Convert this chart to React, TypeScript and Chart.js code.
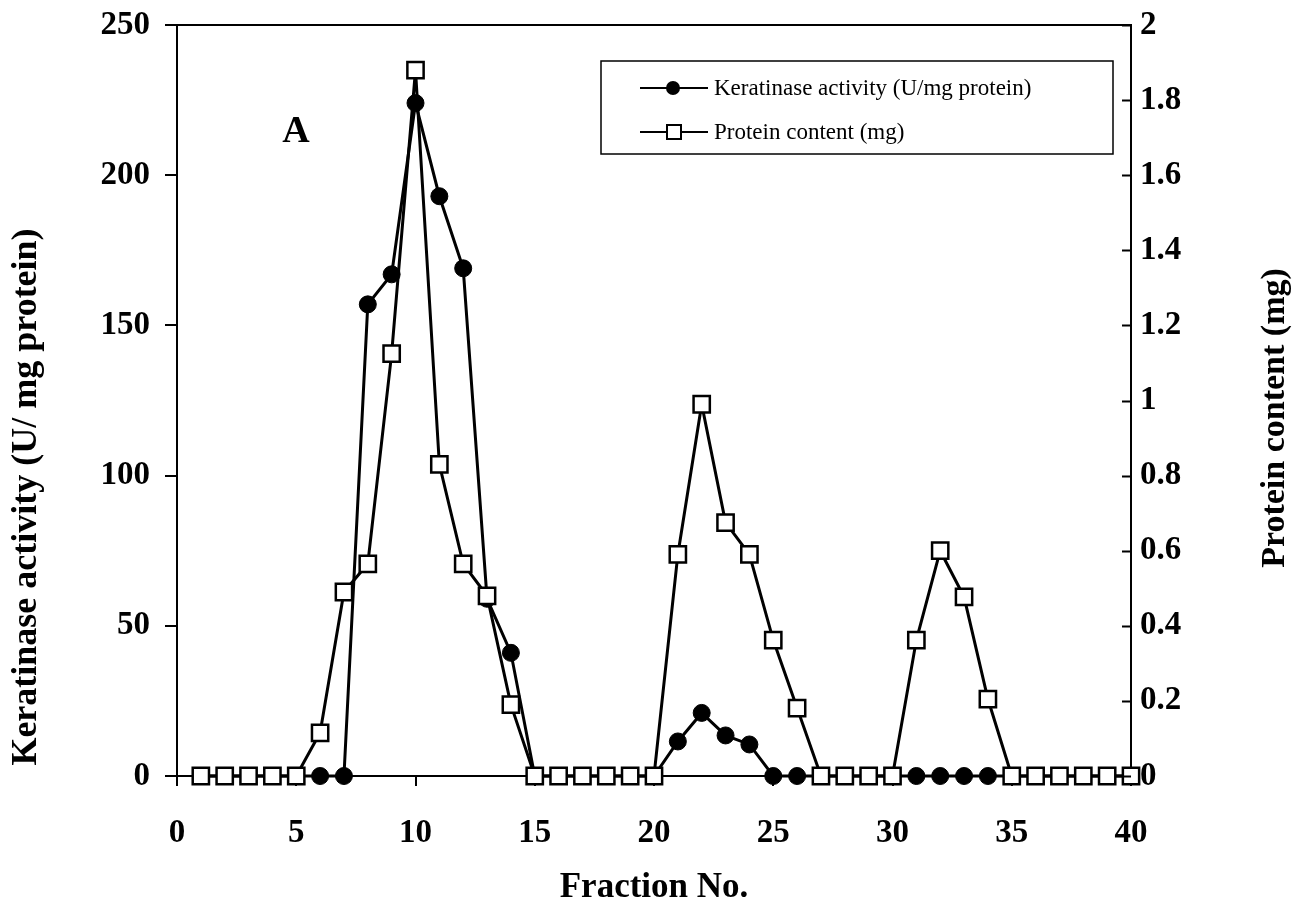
import React, { useEffect, useRef } from "react";
import { Chart, registerables } from "chart.js";

Chart.register(...registerables);

// ---------- data ----------
const FRACTIONS = [
  1, 2, 3, 4, 5, 6, 7, 8, 9, 10, 11, 12, 13, 14, 15, 16, 17, 18, 19, 20,
  21, 22, 23, 24, 25, 26, 27, 28, 29, 30, 31, 32, 33, 34, 35, 36, 37, 38, 39, 40,
];

// Keratinase activity (U/mg protein) - left axis
const KERATINASE = [
  0, 0, 0, 0, 0, 0, 0, 157, 167, 224, 193, 169, 59, 41, 0, 0, 0, 0, 0, 0,
  11.5, 21, 13.5, 10.5, 0, 0, 0, 0, 0, 0, 0, 0, 0, 0, 0, 0, 0, 0, 0, 0,
];

// Protein content (mg) - right axis
const PROTEIN = [
  0, 0, 0, 0, 0, 0.115, 0.49, 0.565, 1.125, 1.88, 0.83, 0.565, 0.48, 0.19, 0, 0, 0, 0, 0, 0,
  0.59, 0.99, 0.675, 0.59, 0.362, 0.181, 0, 0, 0, 0, 0.362, 0.6, 0.477, 0.205, 0, 0, 0, 0, 0, 0,
];

const LEGEND_LABELS = ["Keratinase activity (U/mg protein)", "Protein content (mg)"];
const X_TITLE = "Fraction No.";
const Y_LEFT_TITLE = "Keratinase activity (U/ mg protein)";
const Y_RIGHT_TITLE = "Protein content (mg)";
const PANEL_LABEL = "A";

const SERIF = "'Liberation Serif', 'Times New Roman', Times, serif";

const overlayPlugin = {
  id: "overlay",
  afterDraw(chart: any) {
    const ctx: CanvasRenderingContext2D = chart.ctx;
    const { left, right, top } = chart.chartArea;
    ctx.save();
    ctx.strokeStyle = "#000";
    ctx.fillStyle = "#000";

    // top frame line
    ctx.lineWidth = 2;
    ctx.beginPath();
    ctx.moveTo(left - 1, top);
    ctx.lineTo(right + 1, top);
    ctx.stroke();

    // right axis ticks pointing inward
    const y1 = chart.scales.y1;
    ctx.beginPath();
    y1.ticks.forEach((t: any) => {
      const py = Math.round(y1.getPixelForValue(t.value)) + 0.5;
      ctx.moveTo(right, py);
      ctx.lineTo(right - 9, py);
    });
    ctx.stroke();

    // axis titles (rotated, reading bottom to top)
    ctx.textAlign = "center";
    ctx.textBaseline = "middle";
    ctx.font = `bold 36px ${SERIF}`;
    ctx.save();
    ctx.translate(27, 497);
    ctx.rotate(-Math.PI / 2);
    ctx.fillText(Y_LEFT_TITLE, 0, 0);
    ctx.restore();

    ctx.font = `bold 34px ${SERIF}`;
    ctx.save();
    ctx.translate(1275, 418);
    ctx.rotate(-Math.PI / 2);
    ctx.fillText(Y_RIGHT_TITLE, 0, 0);
    ctx.restore();

    // x title
    ctx.font = `bold 35px ${SERIF}`;
    ctx.fillText(X_TITLE, (left + right) / 2, 888);

    // panel label
    ctx.font = `bold 38px ${SERIF}`;
    ctx.fillText(PANEL_LABEL, 296, 132);

    // legend box
    ctx.lineWidth = 1.5;
    ctx.strokeRect(601, 61, 512, 93);

    ctx.font = `23px ${SERIF}`;
    ctx.textAlign = "left";
    const rows = [88, 132];
    rows.forEach((ry, i) => {
      ctx.lineWidth = 2;
      ctx.beginPath();
      ctx.moveTo(640, ry);
      ctx.lineTo(708, ry);
      ctx.stroke();
      if (i === 0) {
        ctx.beginPath();
        ctx.arc(673, ry, 7, 0, Math.PI * 2);
        ctx.fill();
      } else {
        ctx.fillStyle = "#fff";
        ctx.fillRect(667, ry - 7, 14, 14);
        ctx.fillStyle = "#000";
        ctx.lineWidth = 2;
        ctx.strokeRect(667, ry - 7, 14, 14);
      }
      ctx.fillText(LEGEND_LABELS[i], 714, ry + 1);
    });

    ctx.restore();
  },
};

const zeroPad = (scale: any) => {
  scale.paddingTop = 0;
  scale.paddingBottom = 0;
  scale.paddingLeft = 0;
  scale.paddingRight = 0;
};

export default function App() {
  const canvasRef = useRef<HTMLCanvasElement | null>(null);

  useEffect(() => {
    const canvas = canvasRef.current;
    if (!canvas) return;

    const tickFont = { family: SERIF, size: 33, weight: "bold" as const };

    const chart = new Chart(canvas, {
      type: "line",
      data: {
        datasets: [
          {
            label: LEGEND_LABELS[0],
            data: FRACTIONS.map((f, i) => ({ x: f, y: KERATINASE[i] })),
            yAxisID: "y",
            borderColor: "#000",
            borderWidth: 3,
            backgroundColor: "#000",
            pointStyle: "circle",
            pointRadius: 8.5,
            pointBackgroundColor: "#000",
            pointBorderColor: "#000",
            pointBorderWidth: 1,
            tension: 0,
            clip: false as any,
            order: 1,
          },
          {
            label: LEGEND_LABELS[1],
            data: FRACTIONS.map((f, i) => ({ x: f, y: PROTEIN[i] })),
            yAxisID: "y1",
            borderColor: "#000",
            borderWidth: 3,
            backgroundColor: "#fff",
            pointStyle: "rect",
            pointRadius: 11.5,
            pointBackgroundColor: "#fff",
            pointBorderColor: "#000",
            pointBorderWidth: 2.5,
            tension: 0,
            clip: false as any,
            order: 0,
          },
        ],
      },
      options: {
        animation: false,
        responsive: false,
        devicePixelRatio: 1,
        layout: { padding: { top: 25, left: 0, right: 0, bottom: 0 } },
        plugins: {
          legend: { display: false },
          tooltip: { enabled: false },
        },
        scales: {
          x: {
            type: "linear",
            min: 0,
            max: 40,
            ticks: {
              stepSize: 5,
              color: "#000",
              font: tickFont,
              padding: 28,
              maxRotation: 0,
            },
            grid: {
              display: true,
              drawOnChartArea: false,
              drawTicks: true,
              tickLength: 10,
              color: "#000",
              lineWidth: 2,
            },
            border: { display: true, color: "#000", width: 2 },
            afterFit: (scale: any) => {
              scale.height = 129;
              zeroPad(scale);
            },
          },
          y: {
            type: "linear",
            position: "left",
            min: 0,
            max: 250,
            ticks: {
              stepSize: 50,
              color: "#000",
              font: tickFont,
              padding: 15,
            },
            grid: {
              display: true,
              drawOnChartArea: false,
              drawTicks: true,
              tickLength: 12,
              color: "#000",
              lineWidth: 2,
            },
            border: { display: true, color: "#000", width: 2 },
            afterFit: (scale: any) => {
              scale.width = 177;
              zeroPad(scale);
            },
          },
          y1: {
            type: "linear",
            position: "right",
            min: 0,
            max: 2,
            ticks: {
              stepSize: 0.2,
              color: "#000",
              font: tickFont,
              padding: 9,
              callback: (v: any) => String(Number(Number(v).toFixed(1))),
            },
            grid: {
              display: false,
              drawOnChartArea: false,
              drawTicks: false,
            },
            border: { display: true, color: "#000", width: 2 },
            afterFit: (scale: any) => {
              scale.width = 177;
              zeroPad(scale);
            },
          },
        },
      },
      plugins: [overlayPlugin],
    });

    return () => {
      chart.destroy();
    };
  }, []);

  return (
    <div
      style={{
        position: "fixed",
        left: 0,
        top: 0,
        width: 1308,
        height: 905,
        background: "#fff",
      }}
    >
      <canvas ref={canvasRef} width={1308} height={905} style={{ display: "block" }} />
    </div>
  );
}
